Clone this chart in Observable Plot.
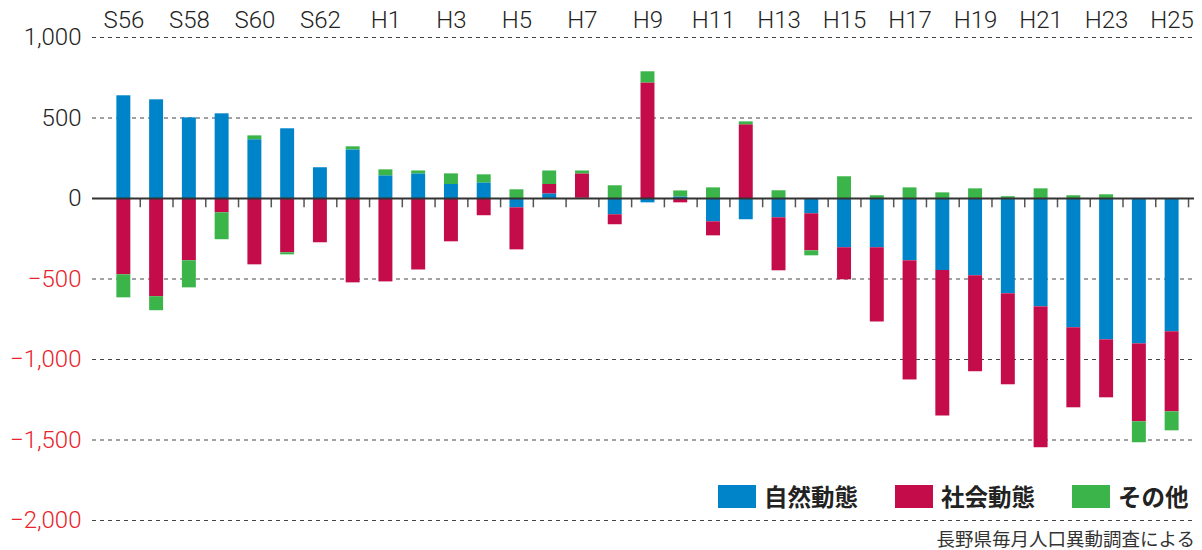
<!DOCTYPE html>
<html>
<head>
<meta charset="utf-8">
<script src="https://cdn.jsdelivr.net/npm/d3@7"></script>
<script src="https://cdn.jsdelivr.net/npm/@observablehq/plot@0.6"></script>
<style>
  html, body { margin: 0; padding: 0; background: #fff; }
  #wrap { position: relative; width: 1202px; height: 550px; overflow: hidden; }
  #chart svg { overflow: visible; }
  #chart svg text { font-weight: 300; }
  #legend { position: absolute; left: 718px; top: 485px; display: flex; align-items: center;
    font-family: "Noto Sans CJK JP", sans-serif; font-weight: bold; font-size: 23.5px; color: #222; }
  #legend .item { display: flex; align-items: center; margin-right: 37px; }
  #legend .item:last-child { margin-right: 0; }
  #legend .sw { width: 38px; height: 23px; margin-right: 8px; }
  #legend .lbl { line-height: 23px; }
  #caption { position: absolute; right: 7px; top: 527px; font-family: "Noto Sans CJK JP", sans-serif;
    font-size: 18.5px; color: #333; line-height: 22px; }
</style>
</head>
<body>
<div id="wrap">
  <div id="chart"></div>
  <div id="legend"></div>
  <div id="caption">長野県毎月人口異動調査による</div>
</div>
<script>
const labels = ["S56","S57","S58","S59","S60","S61","S62","S63",
  "H1","H2","H3","H4","H5","H6","H7","H8","H9","H10","H11","H12","H13",
  "H14","H15","H16","H17","H18","H19","H20","H21","H22","H23","H24","H25"];

const types = ["自然動態", "社会動態", "その他"];
const colors = ["#0084c9", "#c30c49", "#3bb54a"];

const natural = [638, 613, 501, 526, 365, 433, 191, 302,
  141, 153, 87, 97, -58, 29, 2, -101, -27, 10, -145, -132, -120,
  -95, -306, -306, -387, -447, -480, -592, -673, -803, -878, -903, -828];

const social = [-474, -610, -387, -89, -412, -337, -275, -524,
  -518, -444, -269, -107, -261, 58, 151, -62, 718, -27, -87, 458, -329,
  -230, -199, -461, -740, -904, -596, -565, -875, -497, -360, -484, -497];

const other = [-143, -87, -168, -167, 24, -13, 0, 19,
  37, 18, 66, 50, 54, 84, 18, 79, 69, 37, 66, 18, 48,
  -31, 135, 17, 66, 35, 60, 11, 60, 17, 23, -130, -118];

const posTicks = [0, 500, 1000];
const negTicks = [-2000, -1500, -1000, -500];
const gridTicks = [-2000, -1500, -1000, -500, 500, 1000];
const topLabels = labels.filter((d, i) => i % 2 === 0);

const series = [natural, social, other];
const data = labels.flatMap((year, i) =>
  types.map((type, k) => ({year, type, value: series[k][i]})));

const fmt = d3.format(",");

const chart = Plot.plot({
  width: 1202,
  height: 536,
  marginTop: 37,
  marginBottom: 16,
  marginLeft: 92,
  marginRight: 8,
  style: {fontFamily: "Roboto, 'Noto Sans CJK JP', sans-serif", background: "transparent", color: "#222"},
  x: {type: "band", domain: labels, paddingInner: 0, paddingOuter: 0.32, align: 0.714, round: false},
  y: {domain: [-2000, 1000]},
  color: {domain: types, range: colors},
  marks: [
    Plot.gridY(gridTicks, {stroke: "#444", strokeOpacity: 1, strokeWidth: 1, strokeDasharray: "4,4"}),
    Plot.barY(data, Plot.stackY({x: "year", y: "value", fill: "type", insetLeft: 9.4, insetRight: 9.4})),
    Plot.ruleX(labels, {x: d => d, y1: 0, y2: -58, dx: 16.4, stroke: "#555", strokeWidth: 1.5}),
    Plot.ruleY([0], {stroke: "#333", strokeWidth: 2}),
    Plot.axisY(posTicks, {tickSize: 0, tickPadding: 11, fontSize: 24, fill: "#222", tickFormat: fmt, label: null}),
    Plot.axisY(negTicks, {tickSize: 0, tickPadding: 11, fontSize: 24, fill: "#e8232b", tickFormat: fmt, label: null}),
    Plot.axisX(topLabels, {anchor: "top", tickSize: 0, tickPadding: 10, fontSize: 24, fill: "#222", label: null})
  ]
});
document.getElementById("chart").appendChild(chart);

const legend = document.getElementById("legend");
types.forEach((t, k) => {
  const item = document.createElement("div");
  item.className = "item";
  const sw = document.createElement("div");
  sw.className = "sw";
  sw.style.background = colors[k];
  const lbl = document.createElement("span");
  lbl.className = "lbl";
  lbl.textContent = t;
  item.appendChild(sw);
  item.appendChild(lbl);
  legend.appendChild(item);
});
</script>
</body>
</html>
